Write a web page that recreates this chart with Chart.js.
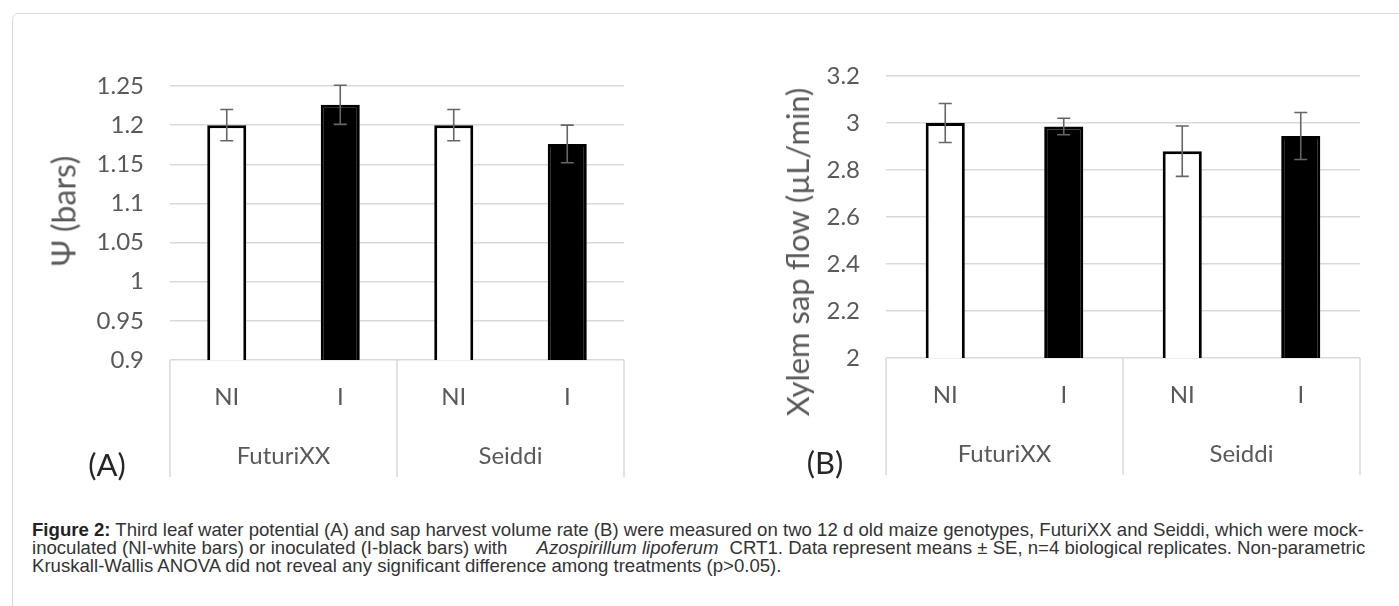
<!DOCTYPE html>
<html>
<head>
<meta charset="utf-8">
<script src="https://cdn.jsdelivr.net/npm/chart.js@4.4.1/dist/chart.umd.min.js"></script>
<style>
  html, body { margin:0; padding:0; background:#fff; width:1399px; height:606px; overflow:hidden; }
  body { position:relative; }
  #frame { position:absolute; left:12px; top:13px; width:1500px; height:700px; border:1px solid #dcdcdc; border-radius:6px; }
  canvas { position:absolute; top:0; }
  #ca { left:0; }
  #cb { left:700px; }
  .panel { position:absolute; font-family:Lato, 'Open Sans', sans-serif; font-size:31px; color:#262626; transform:translate(-50%,-50%); white-space:nowrap; }
  .ytitle { position:absolute; font-family:Lato, 'Open Sans', sans-serif; color:#595959; transform:translate(-50%,-50%) rotate(-90deg); white-space:nowrap; }
  #caption { position:absolute; left:32px; top:521px; font-family:'Liberation Sans', Arial, sans-serif; font-size:18.6px; line-height:18px; color:#333; white-space:nowrap; }
  #caption b { color:#222; }
</style>
</head>
<body>
<div id="frame"></div>
<canvas id="ca" width="700" height="500"></canvas>
<canvas id="cb" width="699" height="500"></canvas>
<div class="ytitle" style="left:63px; top:211px; font-size:32px;">Ψ (bars)</div>
<div class="ytitle" style="left:797px; top:252px; font-size:31px;">Xylem sap flow (µL/min)</div>
<div class="panel" style="left:107px; top:464px;">(A)</div>
<div class="panel" style="left:825px; top:462px;">(B)</div>
<div id="caption"><b>Figure 2:</b> Third leaf water potential (A) and sap harvest volume rate (B) were measured on two 12 d old maize genotypes, FuturiXX and Seiddi, which were mock-<br>inoculated (NI-white bars) or inoculated (I-black bars) with <span style="display:inline-block;width:24px"></span><i>Azospirillum lipoferum</i> <span style="display:inline-block;width:6px"></span>CRT1. Data represent means ± SE, n=4 biological replicates. Non-parametric<br>Kruskall-Wallis ANOVA did not reveal any significant difference among treatments (p&gt;0.05).</div>
<script>
// ---- data ----
const categories = ['NI', 'I', 'NI', 'I'];
const genotypes = ['FuturiXX', 'Seiddi'];
const psiMeans = [1.2, 1.226, 1.2, 1.176];
const psiSE = [0.02, 0.025, 0.02, 0.024];
const sapMeans = [3.0, 2.985, 2.88, 2.945];
const sapSE = [0.083, 0.035, 0.107, 0.1];
const psiTicks = [0.9, 0.95, 1, 1.05, 1.1, 1.15, 1.2, 1.25];
const psiTickLabels = ['0.9', '0.95', '1', '1.05', '1.1', '1.15', '1.2', '1.25'];
const sapTicks = [2, 2.2, 2.4, 2.6, 2.8, 3, 3.2];
const sapTickLabels = ['2', '2.2', '2.4', '2.6', '2.8', '3', '3.2'];

// ---- styles ----
const FONT = "Lato, 'Open Sans', sans-serif";
const TEXT = '#595959';
const GRID = '#d9d9d9';
const treatmentFill = { NI: '#ffffff', I: '#000000' };

const errorBars = {
  id: 'errorBars',
  afterDatasetsDraw(chart) {
    const ctx = chart.ctx;
    const ds = chart.data.datasets[0];
    const meta = chart.getDatasetMeta(0);
    const ys = chart.scales.y;
    const cap = 6.5;
    ctx.save();
    ctx.strokeStyle = '#666666';
    ctx.lineWidth = 1.6;
    meta.data.forEach((bar, i) => {
      const m = ds.data[i], e = ds.errors[i];
      const x = bar.x;
      const t = ys.getPixelForValue(m + e);
      const b = ys.getPixelForValue(m - e);
      ctx.beginPath();
      ctx.moveTo(x, t); ctx.lineTo(x, b);
      ctx.moveTo(x - cap, t); ctx.lineTo(x + cap, t);
      ctx.moveTo(x - cap, b); ctx.lineTo(x + cap, b);
      ctx.stroke();
    });
    ctx.restore();
  }
};

const groupSeparators = {
  id: 'groupSeparators',
  afterDraw(chart) {
    const ctx = chart.ctx;
    const x2 = chart.scales.x2;
    const top = chart.chartArea.bottom;
    const bottom = x2.bottom;
    const half = (x2.getPixelForValue(1) - x2.getPixelForValue(0)) / 2;
    const xs = [x2.getPixelForValue(0) - half];
    genotypes.forEach((g, i) => xs.push(x2.getPixelForValue(i) + half));
    ctx.save();
    ctx.strokeStyle = GRID;
    ctx.lineWidth = 1.5;
    xs.forEach(px => {
      ctx.beginPath(); ctx.moveTo(px, top); ctx.lineTo(px, bottom); ctx.stroke();
    });
    ctx.restore();
  }
};

function makeChart(id, means, errs, ticks, tickLabels, yWidth, barPct, pad) {
  return new Chart(document.getElementById(id), {
    type: 'bar',
    data: {
      labels: categories,
      datasets: [{
        data: means,
        errors: errs,
        backgroundColor: categories.map(c => treatmentFill[c]),
        borderColor: '#000000',
        borderWidth: 3,
        borderSkipped: false,
        categoryPercentage: 1,
        barPercentage: barPct
      }]
    },
    options: {
      responsive: false,
      animation: false,
      events: [],
      layout: { padding: pad },
      plugins: { legend: { display: false }, tooltip: { enabled: false }, title: { display: false } },
      scales: {
        y: {
          min: ticks[0],
          max: ticks[ticks.length - 1],
          afterBuildTicks: s => { s.ticks = ticks.map(v => ({ value: v })); },
          afterFit: s => { s.width = yWidth; },
          ticks: {
            callback: (v, i) => tickLabels[i],
            color: TEXT,
            font: { family: FONT, size: 24 },
            padding: 26
          },
          grid: { color: GRID, lineWidth: 1.5, drawTicks: false },
          border: { display: false }
        },
        x: {
          weight: 0,
          afterFit: s => { s.height = 60; },
          ticks: { color: TEXT, font: { family: FONT, size: 24 }, padding: 23, maxRotation: 0, autoSkip: false },
          grid: { display: false, drawTicks: false },
          border: { display: false }
        },
        x2: {
          type: 'category',
          position: 'bottom',
          weight: 1,
          labels: genotypes,
          offset: true,
          afterFit: s => { s.height = 57; },
          ticks: { color: TEXT, font: { family: FONT, size: 24 }, padding: 22, maxRotation: 0 },
          grid: { display: false, drawTicks: false },
          border: { display: false }
        }
      }
    },
    plugins: [errorBars, groupSeparators]
  });
}

makeChart('ca', psiMeans, psiSE, psiTicks, psiTickLabels, 170, 0.344, { left: 0, top: 86, right: 76, bottom: 23 });
makeChart('cb', sapMeans, sapSE, sapTicks, sapTickLabels, 186, 0.33, { left: 0, top: 76, right: 39, bottom: 25 });
</script>
</body>
</html>
